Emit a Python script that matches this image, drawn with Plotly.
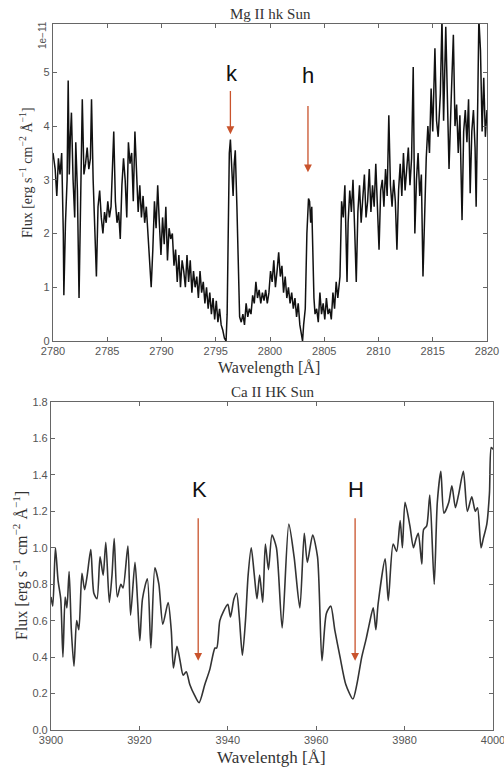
import plotly.graph_objects as go

# ---------------- Data: Mg II hk (flux in units of 1e-11) ----------------
mg_wl = [2780.0, 2780.2, 2780.35, 2780.5, 2780.65, 2780.8, 2780.95, 2781.0, 2781.15, 2781.3,
         2781.4, 2781.5, 2781.6, 2781.7, 2781.85, 2782.0, 2782.1, 2782.25, 2782.4, 2782.55,
         2782.7, 2782.85, 2783.0, 2783.15, 2783.3, 2783.45, 2783.55, 2783.7, 2783.85, 2784.0,
         2784.15, 2784.3, 2784.45, 2784.6, 2784.75, 2784.9, 2785.05, 2785.2, 2785.35, 2785.5,
         2785.6, 2785.75, 2785.9, 2786.05, 2786.2, 2786.35, 2786.5, 2786.65, 2786.8, 2786.95,
         2787.1, 2787.25, 2787.4, 2787.55, 2787.7, 2787.85, 2788.0, 2788.15, 2788.3, 2788.45,
         2788.6, 2788.75, 2788.9, 2789.05, 2789.2, 2789.35, 2789.5, 2789.65, 2789.8, 2789.95,
         2790.1, 2790.25, 2790.4, 2790.55, 2790.7, 2790.85, 2791.0, 2791.15, 2791.3, 2791.45,
         2791.6, 2791.75, 2791.9, 2792.05, 2792.2, 2792.35, 2792.5, 2792.65, 2792.8, 2792.95,
         2793.1, 2793.25, 2793.4, 2793.55, 2793.7, 2793.85, 2794.0, 2794.15, 2794.3, 2794.45,
         2794.6, 2794.75, 2794.9, 2795.05, 2795.2, 2795.35, 2795.5, 2795.65, 2795.8, 2795.95,
         2796.05, 2796.15, 2796.25, 2796.35, 2796.5, 2796.6, 2796.7, 2796.8, 2796.95, 2797.1,
         2797.2, 2797.35, 2797.5, 2797.65, 2797.8, 2797.95, 2798.1, 2798.25, 2798.4, 2798.55,
         2798.7, 2798.85, 2799.0, 2799.15, 2799.3, 2799.45, 2799.6, 2799.75, 2799.9, 2800.05,
         2800.2, 2800.35, 2800.5, 2800.65, 2800.8, 2800.95, 2801.1, 2801.25, 2801.4, 2801.55,
         2801.7, 2801.85, 2802.0, 2802.15, 2802.3, 2802.45, 2802.6, 2802.75, 2802.9, 2803.0,
         2803.1, 2803.25, 2803.4, 2803.55, 2803.65, 2803.75, 2803.85, 2803.95, 2804.05, 2804.15,
         2804.3, 2804.45, 2804.6, 2804.75, 2804.9, 2805.05, 2805.2, 2805.35, 2805.5, 2805.65,
         2805.8, 2805.95, 2806.1, 2806.25, 2806.45, 2806.6, 2806.75, 2806.9, 2807.0, 2807.1,
         2807.2, 2807.35, 2807.5, 2807.65, 2807.8, 2807.95, 2808.1, 2808.25, 2808.4, 2808.55,
         2808.7, 2808.85, 2809.0, 2809.15, 2809.3, 2809.45, 2809.6, 2809.75, 2809.9, 2810.05,
         2810.2, 2810.35, 2810.5, 2810.65, 2810.8, 2810.95, 2811.1, 2811.25, 2811.4, 2811.55,
         2811.7, 2811.85, 2812.0, 2812.15, 2812.3, 2812.45, 2812.6, 2812.75, 2812.9, 2813.05,
         2813.2, 2813.35, 2813.5, 2813.65, 2813.8, 2813.95, 2814.1, 2814.25, 2814.4, 2814.55,
         2814.7, 2814.85, 2815.0, 2815.2, 2815.35, 2815.5, 2815.7, 2815.85, 2816.0, 2816.2,
         2816.35, 2816.5, 2816.7, 2816.9, 2817.05, 2817.2, 2817.35, 2817.5, 2817.7, 2817.85,
         2818.0, 2818.15, 2818.3, 2818.45, 2818.6, 2818.75, 2818.9, 2819.0, 2819.15, 2819.25,
         2819.4, 2819.55, 2819.7, 2819.85, 2820.0]
mg_flux = [3.5, 3.2, 2.7, 3.4, 3.1, 3.5, 2.0, 0.85, 2.2, 3.0,
           4.85, 3.1, 3.8, 4.25, 3.0, 2.3, 3.7, 2.8, 0.8, 2.5,
           4.5, 3.1, 3.3, 3.6, 3.2, 3.4, 4.5, 3.0, 2.1, 1.2,
           2.5, 2.8, 2.3, 2.0, 2.4, 2.2, 2.6, 2.3, 2.5, 3.2,
           3.9, 2.6, 2.2, 2.4, 1.9, 2.9, 3.4, 3.0, 2.3, 3.7,
           3.3, 3.5, 2.6, 3.9, 3.0, 2.4, 2.9, 2.3, 2.7, 2.2,
           2.5, 2.0, 1.6, 1.0, 1.7, 2.6, 2.1, 2.9, 2.2, 1.6,
           2.3, 1.8, 2.5, 1.5, 2.1, 1.9, 2.0, 1.4, 1.7, 1.1,
           1.6, 1.0, 1.5, 1.3, 1.0, 1.6, 1.1, 1.5, 0.9, 1.3,
           1.0, 1.2, 0.8, 1.3, 0.9, 1.1, 0.7, 1.0, 0.6, 0.9,
           0.5, 0.8, 0.4, 0.75, 0.35, 0.6, 0.3, 0.2, 0.05, 0.0,
           0.5, 2.0, 3.5, 3.75, 3.0, 2.7, 3.3, 3.55, 2.5, 1.0,
           0.45, 0.35, 0.5, 0.3, 0.7, 0.45, 0.6, 0.5, 0.85, 0.7,
           1.1, 0.8, 0.95, 0.7, 0.9, 0.75, 0.95, 0.7, 0.9, 1.3,
           1.1, 1.5, 1.0, 1.3, 1.65, 1.2, 1.4, 0.9, 1.2, 0.8,
           1.0, 0.7, 0.9, 0.6, 0.8, 0.45, 0.7, 0.3, 0.1, 0.0,
           0.3, 0.6, 2.0, 2.65, 2.6, 2.2, 2.5, 1.5, 0.8, 0.5,
           0.6, 0.35, 0.9, 0.5, 0.7, 0.4, 0.8, 0.5, 0.6, 0.4,
           0.9, 0.6, 1.1, 0.8, 1.2, 2.6, 2.3, 2.9, 2.0, 1.1,
           2.2, 2.8, 2.4, 3.0, 2.1, 1.1, 2.4, 2.9, 2.2, 2.7,
           3.1, 2.3, 2.6, 3.2, 2.4, 2.9, 2.5, 3.3, 2.6, 1.7,
           2.8, 3.0, 2.5, 3.2, 2.7, 4.2, 2.9, 2.5, 3.0, 2.6,
           1.7, 2.8, 3.3, 2.7, 3.5, 2.8, 3.2, 3.6, 2.9, 3.4,
           5.1, 2.0, 3.0, 3.5, 2.7, 3.1, 1.2, 2.6, 3.4, 4.0,
           3.5, 4.7, 3.9, 5.45, 4.1, 3.8, 4.6, 6.0, 4.1, 5.85,
           4.4, 3.2, 4.5, 5.7, 4.0, 4.4, 3.5, 4.2, 2.25, 3.9,
           4.3, 3.7, 4.5, 2.75, 3.9, 4.3, 3.6, 2.5, 4.5, 6.0,
           5.4, 3.9, 4.9, 3.8, 4.3]

mg_xticks = [2780, 2785, 2790, 2795, 2800, 2805, 2810, 2815, 2820]
mg_yticks = [0, 1, 2, 3, 4, 5]

# ---------------- Data: Ca II HK ----------------
ca_wl = [3900.0, 3900.4, 3901.0, 3901.6, 3902.2, 3902.7, 3903.2, 3903.6, 3904.1, 3904.6,
         3905.2, 3905.8, 3906.3, 3907.0, 3907.6, 3908.2, 3909.0, 3909.7, 3910.4, 3911.1,
         3911.8, 3912.4, 3913.2, 3913.8, 3914.3, 3915.0, 3915.8, 3916.3, 3917.4, 3918.0,
         3919.0, 3919.6, 3920.1, 3920.7, 3921.8, 3922.6, 3923.5, 3924.4, 3925.3, 3926.5,
         3927.2, 3927.7, 3928.5, 3929.2, 3929.9, 3930.6, 3931.4, 3932.5, 3933.5, 3934.8,
         3935.9, 3937.1, 3937.5, 3938.2, 3939.0, 3940.0, 3940.6, 3941.4, 3942.0, 3942.6,
         3943.3, 3944.0, 3944.6, 3945.3, 3946.0, 3946.6, 3947.2, 3947.9, 3948.5, 3949.2,
         3950.0, 3951.0, 3952.3, 3953.8, 3955.0, 3956.3, 3957.3, 3958.0, 3959.2, 3960.3,
         3961.3, 3962.3, 3963.3, 3964.2, 3965.4, 3966.7, 3968.3, 3969.2, 3970.3, 3971.3,
         3972.0, 3972.9, 3973.5, 3974.0, 3975.6, 3976.3, 3977.4, 3978.2, 3979.0, 3979.5,
         3980.1, 3981.2, 3982.0, 3982.6, 3983.1, 3983.9, 3984.3, 3985.0, 3985.7, 3986.7,
         3987.4, 3988.2, 3988.9, 3990.0, 3990.7, 3991.5, 3992.2, 3993.3, 3994.2, 3995.2,
         3996.0, 3996.5, 3997.3, 3997.8, 3998.6, 3999.2, 3999.6, 4000.0]
ca_flux = [0.73, 0.68, 1.0, 0.82, 0.72, 0.40, 0.73, 0.67, 0.87, 0.55,
           0.35, 0.60, 0.55, 0.86, 0.77, 0.85, 0.99, 0.75, 0.72, 0.95,
           0.85, 1.03, 0.70, 0.85, 1.05, 0.73, 0.80, 0.78, 1.01, 0.63,
           0.92, 0.70, 0.49, 0.72, 0.83, 0.45, 0.89, 0.80, 0.58, 0.70,
           0.55, 0.34, 0.46, 0.38, 0.30, 0.32, 0.25, 0.19, 0.15, 0.25,
           0.33, 0.45, 0.45, 0.60, 0.65, 0.69, 0.62, 0.72, 0.75, 0.62,
           0.41, 0.60, 0.85, 1.0, 0.85, 0.72, 0.85, 0.70, 1.02, 0.88,
           1.07, 1.0, 0.56, 1.13, 0.95, 0.67, 1.08, 0.92, 1.07, 0.95,
           0.38, 0.64, 0.68, 0.55, 0.40, 0.25, 0.17, 0.25, 0.40, 0.50,
           0.58, 0.67, 0.55, 0.69, 0.94, 0.71, 1.02, 0.98, 1.15, 1.0,
           1.25, 1.12, 1.0, 1.05, 1.08, 0.91, 1.1, 1.12, 1.29, 0.80,
           1.25, 1.42, 1.19, 1.25, 1.34, 1.22, 1.29, 1.42, 1.2, 1.28,
           1.2, 1.22, 1.0, 1.05, 1.13, 1.3, 1.55, 1.54]

ca_xticks = [3900, 3920, 3940, 3960, 3980, 4000]
ca_yticks = [0.0, 0.2, 0.4, 0.6, 0.8, 1.0, 1.2, 1.4, 1.6, 1.8]

# ---------------- Figure ----------------
W, H = 504, 771
SERIF = "Liberation Serif, Times New Roman, serif"
SANS = "Liberation Sans, Arial, sans-serif"
ARROW = "#c9532c"

fig = go.Figure()
fig.add_trace(go.Scatter(x=mg_wl, y=mg_flux, mode="lines", xaxis="x", yaxis="y",
                         line=dict(color="#111111", width=1.5), showlegend=False))
fig.add_trace(go.Scatter(x=ca_wl, y=ca_flux, mode="lines", xaxis="x2", yaxis="y2",
                         line=dict(color="#333333", width=1.6, shape="spline", smoothing=0.7),
                         showlegend=False))

def px_x(p):
    return p / W

def px_y(p):
    return 1 - p / H

axis_common = dict(showline=True, linecolor="#666666", linewidth=1.2, mirror="ticks",
                   ticks="inside", ticklen=4, tickcolor="#666666", showgrid=False,
                   zeroline=False, automargin=False, ticklabeloverflow="allow",
                   tickfont=dict(family=SANS, size=11, color="#555555"))

fig.update_layout(
    width=W, height=H, paper_bgcolor="white", plot_bgcolor="white",
    margin=dict(l=0, r=0, t=0, b=0),
    xaxis=dict(domain=[px_x(53), px_x(487)], range=[2780, 2820], anchor="y",
               tickvals=mg_xticks, **axis_common),
    yaxis=dict(domain=[px_y(341), px_y(24)], range=[0, 5.9], anchor="x",
               tickvals=mg_yticks, **axis_common),
    xaxis2=dict(domain=[px_x(51), px_x(493)], range=[3900, 4000], anchor="y2",
                tickvals=ca_xticks, **axis_common),
    yaxis2=dict(domain=[px_y(730), px_y(402)], range=[0, 1.8], anchor="x2",
                tickvals=ca_yticks, tickformat=".1f", **axis_common),
)

ann = []

def paper_text(text, x, y, size, family=SERIF, color="#333333", angle=0):
    ann.append(dict(text=text, x=px_x(x), y=px_y(y), xref="paper", yref="paper",
                    xanchor="center", yanchor="middle", textangle=angle, showarrow=False,
                    font=dict(family=family, size=size, color=color)))

paper_text("Mg II hk Sun", 270, 14, 15)
paper_text("Ca II HK Sun", 272, 392, 15)
paper_text("Wavelength [Å]", 269, 368, 16)
paper_text("Wavelentgh [Å]", 271, 757, 17)
paper_text("Flux [erg s<sup>−1</sup> cm<sup>−2</sup> Å<sup>−1</sup>]", 26, 173, 14, angle=-90)
paper_text("Flux [erg s<sup>−1</sup> cm<sup>−2</sup> Å<sup>−1</sup>]", 20, 566, 16, angle=-90)
paper_text("1e−11", 43, 35, 10, family=SANS, color="#555555", angle=-90)

# line labels and arrows (top)
for lab, lx, ly, axx, top, tip in [("k", 2796.5, 4.98, 2796.35, 4.68, 3.85),
                                   ("h", 2803.5, 4.94, 2803.5, 4.4, 3.14)]:
    ann.append(dict(text=lab, x=lx, y=ly, xref="x", yref="y", showarrow=False,
                    xanchor="center", yanchor="middle",
                    font=dict(family=SANS, size=22, color="#111111")))
    ann.append(dict(text="", x=axx, y=tip, ax=axx, ay=top, xref="x", yref="y",
                    axref="x", ayref="y", showarrow=True,
                    arrowhead=2, arrowsize=1.2, arrowwidth=1.3, arrowcolor=ARROW))
# bottom
for lab, lx, ly, ax_, top, tip in [("K", 3933.5, 1.32, 3933.3, 1.17, 0.38),
                                   ("H", 3969.0, 1.32, 3968.8, 1.17, 0.38)]:
    ann.append(dict(text=lab, x=lx, y=ly, xref="x2", yref="y2", showarrow=False,
                    xanchor="center", yanchor="middle",
                    font=dict(family=SANS, size=22, color="#111111")))
    ann.append(dict(text="", x=ax_, y=tip, ax=ax_, ay=top, xref="x2", yref="y2",
                    axref="x2", ayref="y2", showarrow=True,
                    arrowhead=2, arrowsize=1.2, arrowwidth=1.3, arrowcolor=ARROW))

fig.update_layout(annotations=ann)
fig.write_html("out.html", config={"displayModeBar": False},
               post_script="document.body.style.margin='0';document.body.style.overflow='hidden';")
